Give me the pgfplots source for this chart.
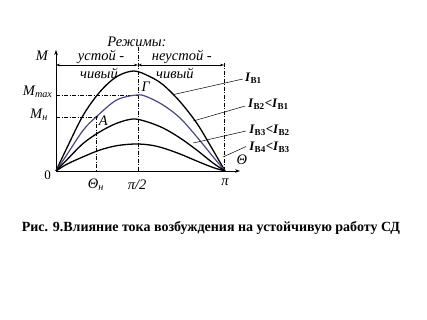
\documentclass[border=0pt]{standalone}
\usepackage{fontspec}
\setmainfont{Liberation Serif}
\usepackage{pgfplots}
\pgfplotsset{compat=1.18}
\usetikzlibrary{arrows.meta}
\definecolor{curveblue}{RGB}{72,72,128}

% load angle (degrees) vs. torque, for four excitation currents
\pgfplotstableread{
x      m
0      0
11.4   0.227
29.1   0.56
46.9   0.793
64.6   0.943
83     1.0
100.1  0.943
114.3  0.86
132.1  0.693
149.8  0.48
164    0.26
180    0
}\curveA
\pgfplotstableread{
x      m
0      0
11.4   0.16
29.1   0.41
43.3   0.545
64.6   0.71
85.9   0.76
96.6   0.743
114    0.66
132.1  0.53
149.8  0.343
167.2  0.143
180    0
}\curveB
\pgfplotstableread{
x      m
0      0
11.4   0.11
29.1   0.277
46.9   0.393
64.6   0.477
82     0.52
96.6   0.493
114    0.43
132.1  0.33
149.8  0.21
167.2  0.08
180    0
}\curveC
\pgfplotstableread{
x      m
0      0
11.4   0.067
29.1   0.143
46.9   0.21
64.6   0.253
84     0.27
100    0.26
114    0.23
132.1  0.17
149.8  0.10
167.2  0.035
180    0
}\curveD

\tikzset{
  refline/.style={line width=0.5pt, dash pattern=on 4pt off 1.5pt on 1pt off 1.5pt},
  lbl/.style={font=\fontsize{14.5}{16}\selectfont\itshape, inner sep=0pt},
  cur/.style={font=\fontsize{13}{15}\selectfont\bfseries, anchor=west, inner sep=0pt},
}

\begin{document}
\begin{tikzpicture}[x=1pt,y=1pt]
\path[use as bounding box] (0,0) rectangle (427,320);
\begin{axis}[
  at={(56pt,149pt)}, anchor=south west,
  x=0.939pt, y=100pt,
  xmin=0, xmax=196, ymin=0, ymax=1.21,
  axis lines=left,
  axis line style={line width=0.6pt, -{Stealth[length=5pt,width=3.5pt]}},
  xtick=\empty, ytick=\empty,
  clip=false,
]
% reference lines
\draw[refline] (axis cs:87.3,1.24) -- (axis cs:87.3,0);
\draw[refline] (axis cs:179,1.08) -- (axis cs:179,0);
\draw[refline] (axis cs:0,0.76) -- (axis cs:87.3,0.76);
\draw[refline] (axis cs:0,0.54) -- (axis cs:43.3,0.54) -- (axis cs:43.3,0);
% stability zones
\draw[line width=0.5pt, {Stealth[length=4pt,width=2.5pt]}-{Stealth[length=4pt,width=2.5pt]}] (axis cs:0,1.06) -- (axis cs:87.3,1.06);
\draw[line width=0.5pt, {Stealth[length=4pt,width=2.5pt]}-{Stealth[length=4pt,width=2.5pt]}] (axis cs:87.3,1.06) -- (axis cs:179,1.06);

\addplot[black, line width=1.3pt, smooth, tension=0.55] table[x=x,y=m] {\curveA};
\addplot[curveblue, line width=1.2pt, smooth, tension=0.55] table[x=x,y=m] {\curveB};
\addplot[black, line width=1.3pt, smooth, tension=0.55] table[x=x,y=m] {\curveC};
\addplot[black, line width=1.3pt, smooth, tension=0.55] table[x=x,y=m] {\curveD};
\addplot[only marks, mark=*, mark size=0.9pt, black] coordinates {(43.3,0.54)};

% leader lines
\draw[line width=0.5pt] (axis cs:124.6,0.763) -- (axis cs:199,0.92);
\draw[line width=0.5pt] (axis cs:146.2,0.50) -- (axis cs:201.5,0.65);
\draw[line width=0.5pt] (axis cs:146.2,0.28) -- (axis cs:202.4,0.40);
\draw[line width=0.5pt] (axis cs:177.9,0.14) -- (axis cs:202.4,0.245);

% labels
\node[lbl] at (axis cs:86.2,1.29) {Режимы:};
\node[lbl] at (axis cs:48,1.14) {устой -};
\node[lbl] at (axis cs:45.8,0.98) {чивый};
\node[lbl] at (axis cs:134,1.14) {неустой -};
\node[lbl] at (axis cs:126.7,0.98) {чивый};
\node[lbl] at (axis cs:-14.9,1.15) {M};
\node[lbl] at (axis cs:-19.5,0.79) {M\textsubscript{max}};
\node[lbl] at (axis cs:-18.1,0.56) {M\textsubscript{н}};
\node[lbl] at (axis cs:42.6,-0.14) {Θ\textsubscript{н}};
\node[lbl] at (axis cs:86.3,-0.14) {π/2};
\node[lbl] at (axis cs:180,-0.11) {π};
\node[lbl] at (axis cs:198,0.11) {Θ};
\node[lbl] at (axis cs:95.5,0.84) {Г};
\node[lbl] at (axis cs:50.5,0.50) {A};
\node[lbl, font=\fontsize{13}{15}\selectfont\upshape] at (axis cs:-9,-0.04) {0};
\node[cur] at (axis cs:201.3,0.93) {\textit{I}\textsubscript{В1}};
\node[cur] at (axis cs:204.5,0.67) {\textit{I}\textsubscript{В2}<\textit{I}\textsubscript{В1}};
\node[cur] at (axis cs:205.6,0.41) {\textit{I}\textsubscript{В3}<\textit{I}\textsubscript{В2}};
\node[cur] at (axis cs:205.6,0.24) {\textit{I}\textsubscript{В4}<\textit{I}\textsubscript{В3}};
\end{axis}
\node[font=\fontsize{14}{16}\selectfont\bfseries] at (211,92) {Рис. 9.Влияние тока возбуждения на устойчивую работу СД};
\end{tikzpicture}
\end{document}
